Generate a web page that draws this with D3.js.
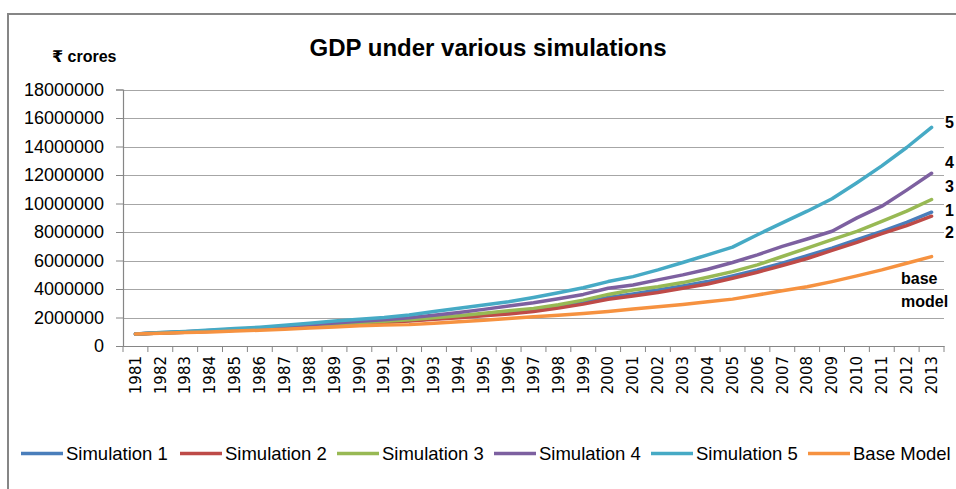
<!DOCTYPE html>
<html>
<head>
<meta charset="utf-8">
<script src="https://cdn.jsdelivr.net/npm/d3@7"></script>
<style>
  html, body { margin: 0; padding: 0; background: #fff; }
  svg { display: block; }
</style>
</head>
<body>
<svg id="chart" width="956" height="489"></svg>
<script>
const years = ["1981","1982","1983","1984","1985","1986","1987","1988","1989","1990","1991","1992","1993","1994","1995","1996","1997","1998","1999","2000","2001","2002","2003","2004","2005","2006","2007","2008","2009","2010","2011","2012","2013"];

const sim1 = [840000,910000,970000,1040000,1120000,1200000,1290000,1390000,1500000,1600000,1690000,1790000,1910000,2040000,2180000,2330000,2520000,2750000,3040000,3400000,3650000,3930000,4210000,4520000,4920000,5340000,5810000,6330000,6870000,7460000,8050000,8680000,9390000];
const sim2 = [840000,910000,970000,1040000,1110000,1190000,1280000,1380000,1480000,1580000,1660000,1760000,1870000,1990000,2120000,2240000,2420000,2660000,2940000,3280000,3510000,3760000,4050000,4350000,4750000,5180000,5650000,6140000,6710000,7270000,7880000,8450000,9110000];
const sim3 = [840000,920000,980000,1050000,1130000,1210000,1310000,1420000,1530000,1640000,1730000,1850000,1980000,2130000,2300000,2470000,2640000,2890000,3220000,3620000,3930000,4160000,4450000,4820000,5220000,5690000,6280000,6870000,7460000,8050000,8750000,9460000,10280000];
const sim4 = [840000,930000,1000000,1080000,1170000,1260000,1370000,1490000,1620000,1740000,1850000,1980000,2150000,2350000,2570000,2800000,3040000,3320000,3620000,4050000,4280000,4640000,4990000,5390000,5860000,6400000,6990000,7510000,8050000,8990000,9810000,10940000,12120000];
const sim5 = [840000,950000,1020000,1120000,1220000,1320000,1450000,1600000,1750000,1880000,2000000,2180000,2420000,2650000,2870000,3110000,3410000,3740000,4090000,4520000,4870000,5340000,5860000,6400000,6940000,7810000,8640000,9460000,10330000,11460000,12640000,13930000,15340000];
const baseModel = [840000,890000,940000,990000,1050000,1110000,1180000,1260000,1340000,1420000,1480000,1500000,1600000,1700000,1800000,1930000,2050000,2160000,2280000,2420000,2590000,2750000,2920000,3110000,3290000,3580000,3880000,4160000,4520000,4920000,5340000,5810000,6270000];

const seriesNames = ["Simulation 1","Simulation 2","Simulation 3","Simulation 4","Simulation 5","Base Model"];
const seriesValues = [sim1, sim2, sim3, sim4, sim5, baseModel];
const seriesColors = ["#4A7EBB","#BE4B48","#98B954","#7D60A0","#46AAC5","#F69240"];
const yTicks = [0,2000000,4000000,6000000,8000000,10000000,12000000,14000000,16000000,18000000];
const endLabels = ["5","4","3","1","2"];

(function () {
const svg = d3.select("#chart");
const W = 956, H = 489;
svg.append("rect").attr("width", W).attr("height", H).attr("fill", "#fff");

// outer chart border
svg.append("rect").attr("x", 8).attr("y", 14).attr("width", 980).attr("height", 500)
  .attr("fill", "none").attr("stroke", "#868686").attr("stroke-width", 2);

const pLeft = 123, pRight = 944, pTop = 89.5, pBottom = 346;
const x = d3.scaleBand().domain(years).range([pLeft, pRight]).padding(0);
const y = d3.scaleLinear().domain([0, 18000000]).range([pBottom, pTop]);

// gridlines
svg.append("g").selectAll("line").data(yTicks.filter(d => d > 0)).join("line")
  .attr("x1", pLeft).attr("x2", pRight)
  .attr("y1", d => Math.round(y(d)) + 0.5).attr("y2", d => Math.round(y(d)) + 0.5)
  .attr("stroke", "#a6a6a6").attr("stroke-width", 1.2);

// y axis
const yAxis = d3.axisLeft(y).tickValues(yTicks).tickSize(7).tickPadding(12).tickFormat(d3.format("d"));
const gy = svg.append("g").attr("transform", `translate(${pLeft},0)`).call(yAxis);
gy.select(".domain").attr("stroke", "#868686").attr("stroke-width", 1.2);
gy.selectAll(".tick line").attr("stroke", "#868686");
gy.selectAll("text").attr("font-family", "Liberation Sans, Arial, sans-serif").attr("font-size", 18).attr("fill", "#000");

// x axis
const xAxis = d3.axisBottom(x).tickSize(0).tickPadding(0);
const gx = svg.append("g").attr("transform", `translate(0,${pBottom})`).call(xAxis);
gx.select(".domain").attr("stroke", "#868686").attr("stroke-width", 1.2);
gx.selectAll("text")
  .attr("font-family", "DejaVu Sans, sans-serif").attr("font-size", 15).attr("fill", "#000")
  .attr("text-anchor", "end")
  .attr("transform", "translate(0,10) rotate(-90)")
  .attr("x", 0).attr("y", 0).attr("dy", "0.35em");
// category boundary ticks
const bounds = years.map(d => x(d)).concat([x(years[years.length-1]) + x.bandwidth()]);
svg.append("g").selectAll("line").data(bounds).join("line")
  .attr("x1", d => d).attr("x2", d => d).attr("y1", pBottom).attr("y2", pBottom + 6)
  .attr("stroke", "#868686").attr("stroke-width", 1);

// lines
const line = d3.line()
  .x((d, i) => x(years[i]) + x.bandwidth() / 2)
  .y(d => y(d));
seriesValues.forEach((vals, si) => {
  svg.append("path").datum(vals)
    .attr("d", line)
    .attr("fill", "none")
    .attr("stroke", seriesColors[si])
    .attr("stroke-width", 3.5)
    .attr("stroke-linejoin", "round")
    .attr("stroke-linecap", "round");
});

// titles
svg.append("text").attr("x", 488).attr("y", 56).attr("text-anchor", "middle")
  .attr("font-family", "Liberation Sans, Arial, sans-serif").attr("font-weight", "bold").attr("font-size", 24)
  .text("GDP under various simulations");
svg.append("text").attr("x", 52).attr("y", 62)
  .attr("font-family", "Liberation Sans, DejaVu Sans, sans-serif").attr("font-weight", "bold").attr("font-size", 16)
  .text("₹ crores");

// end labels
const endLabelY = [122.7, 162.7, 186.7, 210, 232.7];
svg.append("g").selectAll("text").data(endLabels).join("text")
  .attr("x", 945).attr("y", (d, i) => endLabelY[i]).attr("dy", "0.35em")
  .attr("font-family", "Liberation Sans, Arial, sans-serif").attr("font-weight", "bold").attr("font-size", 16)
  .text(d => d);
svg.append("text").attr("x", 901).attr("y", 278).attr("dy", "0.35em")
  .attr("font-family", "Liberation Sans, Arial, sans-serif").attr("font-weight", "bold").attr("font-size", 16)
  .text("base");
svg.append("text").attr("x", 901).attr("y", 301).attr("dy", "0.35em")
  .attr("font-family", "Liberation Sans, Arial, sans-serif").attr("font-weight", "bold").attr("font-size", 16)
  .text("model");

// legend
const legendX = [21, 180, 337, 494, 651, 808];
const lg = svg.append("g").selectAll("g").data(seriesNames).join("g")
  .attr("transform", (d, i) => `translate(${legendX[i]},453.5)`);
lg.append("line").attr("x1", 0).attr("x2", 42).attr("y1", 0).attr("y2", 0)
  .attr("stroke", (d, i) => seriesColors[i]).attr("stroke-width", 3.5);
lg.append("text").attr("x", 45).attr("y", 0).attr("dy", "0.35em")
  .attr("font-family", "Liberation Sans, Arial, sans-serif").attr("font-size", 18.5).attr("fill", "#000")
  .text(d => d);
})();
</script>
</body>
</html>
